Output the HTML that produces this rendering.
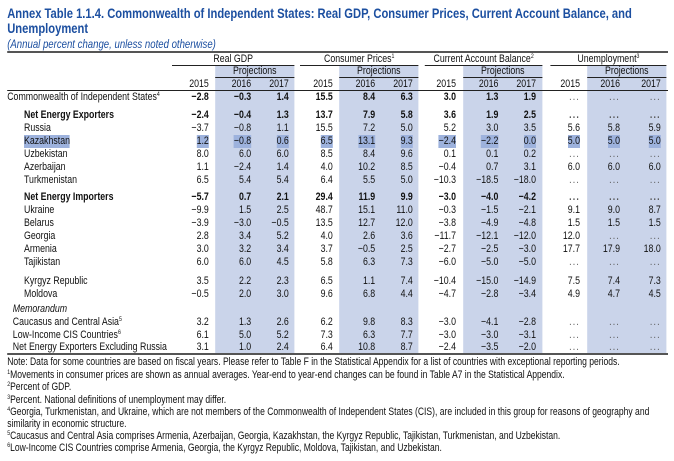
<!DOCTYPE html>
<html><head><meta charset="utf-8"><style>
html,body{margin:0;padding:0;background:#fff;width:674px;height:461px;overflow:hidden}
#w{position:absolute;left:0;top:0;width:842px;height:461px;transform:scaleX(0.8);transform-origin:0 0;font-family:"Liberation Sans",sans-serif;color:#111}
.a{position:absolute;white-space:nowrap}
.t{color:#1c4fa0;font-weight:bold;font-size:14px;left:9px}
.sh{position:absolute;background:#cad4ea;top:66px;height:288px}
.r{position:absolute;left:0;width:842px;height:13px;font-size:11px;line-height:13px}
.r span{position:absolute;text-align:right;white-space:nowrap}
.b{font-weight:bold}
.c1{right:581px}.c2{right:528px}.c3{right:481px}.c4{right:426px}.c5{right:373px}.c6{right:326px}.c7{right:272px}.c8{right:219px}.c9{right:172px}.c10{right:117px}.c11{right:67px}.c12{right:16px}
.r span.l{left:30px;text-align:left}
.r span.l0{left:9px;text-align:left}
.r span.l1{left:16px;text-align:left}
.hl .c1,.hl .c2,.hl .c3,.hl .c4,.hl .c5,.hl .c6,.hl .c7,.hl .c8,.hl .c9,.hl .c10,.hl .c11,.hl .c12,.hl .l{background:#9db2dd}
.ln{position:absolute;background:#222;height:1px}
.f{position:absolute;left:9px;font-size:10.7px;line-height:12px;white-space:nowrap}
sup{font-size:6.5px;vertical-align:top;line-height:6px;position:relative;top:1px}
.d{letter-spacing:1.5px;color:#555}
</style></head><body><div id="w">
<div class="a t" style="top:5px">Annex Table 1.1.4. Commonwealth of Independent States: Real GDP, Consumer Prices, Current Account Balance, and</div>
<div class="a t" style="top:20px">Unemployment</div>
<div class="a" style="left:9px;top:37px;font-size:12px;font-style:italic;color:#1c4fa0">(Annual percent change, unless noted otherwise)</div>

<div class="sh" style="left:269px;width:99px"></div>
<div class="sh" style="left:424px;width:99px"></div>
<div class="sh" style="left:579px;width:99px"></div>
<div class="sh" style="left:734px;width:99px"></div>

<div class="ln" style="left:9px;width:826px;top:51px;height:2px;background:#555"></div>
<div class="r" style="top:53px"><span style="left:215px;width:153px;text-align:center">Real GDP</span><span style="left:375px;width:148px;text-align:center">Consumer Prices<sup>1</sup></span><span style="left:531px;width:147px;text-align:center">Current Account Balance<sup>2</sup></span><span style="left:688px;width:145px;text-align:center">Unemployment<sup>3</sup></span></div>
<div class="ln" style="left:215px;width:153px;top:65px"></div>
<div class="ln" style="left:375px;width:148px;top:65px"></div>
<div class="ln" style="left:531px;width:147px;top:65px"></div>
<div class="ln" style="left:688px;width:145px;top:65px"></div>
<div class="r" style="top:65px"><span style="left:269px;width:99px;text-align:center">Projections</span><span style="left:424px;width:99px;text-align:center">Projections</span><span style="left:579px;width:99px;text-align:center">Projections</span><span style="left:734px;width:99px;text-align:center">Projections</span></div>
<div class="ln" style="left:269px;width:99px;top:77px"></div>
<div class="ln" style="left:424px;width:99px;top:77px"></div>
<div class="ln" style="left:579px;width:99px;top:77px"></div>
<div class="ln" style="left:734px;width:99px;top:77px"></div>
<div class="r" style="top:78px"><span class="c1">2015</span><span class="c2">2016</span><span class="c3">2017</span><span class="c4">2015</span><span class="c5">2016</span><span class="c6">2017</span><span class="c7">2015</span><span class="c8">2016</span><span class="c9">2017</span><span class="c10">2015</span><span class="c11">2016</span><span class="c12">2017</span></div>
<div class="ln" style="left:9px;width:826px;top:90px"></div>

<div class="r" style="top:91px"><span class="l0">Commonwealth of Independent States<sup>4</sup></span><span class="c1 b">−2.8</span><span class="c2 b">−0.3</span><span class="c3 b">1.4</span><span class="c4 b">15.5</span><span class="c5 b">8.4</span><span class="c6 b">6.3</span><span class="c7 b">3.0</span><span class="c8 b">1.3</span><span class="c9 b">1.9</span><span class="c10 d">...</span><span class="c11 d">...</span><span class="c12 d">...</span></div>

<div class="r b" style="top:109px"><span class="l">Net Energy Exporters</span><span class="c1">−2.4</span><span class="c2">−0.4</span><span class="c3">1.3</span><span class="c4">13.7</span><span class="c5">7.9</span><span class="c6">5.8</span><span class="c7">3.6</span><span class="c8">1.9</span><span class="c9">2.5</span><span class="c10 d">...</span><span class="c11 d">...</span><span class="c12 d">...</span></div>
<div class="r" style="top:122px"><span class="l">Russia</span><span class="c1">−3.7</span><span class="c2">−0.8</span><span class="c3">1.1</span><span class="c4">15.5</span><span class="c5">7.2</span><span class="c6">5.0</span><span class="c7">5.2</span><span class="c8">3.0</span><span class="c9">3.5</span><span class="c10">5.6</span><span class="c11">5.8</span><span class="c12">5.9</span></div>
<div class="r hl" style="top:135px"><span class="l">Kazakhstan</span><span class="c1">1.2</span><span class="c2">−0.8</span><span class="c3">0.6</span><span class="c4">6.5</span><span class="c5">13.1</span><span class="c6">9.3</span><span class="c7">−2.4</span><span class="c8">−2.2</span><span class="c9">0.0</span><span class="c10">5.0</span><span class="c11">5.0</span><span class="c12">5.0</span></div>
<div class="r" style="top:148px"><span class="l">Uzbekistan</span><span class="c1">8.0</span><span class="c2">6.0</span><span class="c3">6.0</span><span class="c4">8.5</span><span class="c5">8.4</span><span class="c6">9.6</span><span class="c7">0.1</span><span class="c8">0.1</span><span class="c9">0.2</span><span class="c10 d">...</span><span class="c11 d">...</span><span class="c12 d">...</span></div>
<div class="r" style="top:161px"><span class="l">Azerbaijan</span><span class="c1">1.1</span><span class="c2">−2.4</span><span class="c3">1.4</span><span class="c4">4.0</span><span class="c5">10.2</span><span class="c6">8.5</span><span class="c7">−0.4</span><span class="c8">0.7</span><span class="c9">3.1</span><span class="c10">6.0</span><span class="c11">6.0</span><span class="c12">6.0</span></div>
<div class="r" style="top:174px"><span class="l">Turkmenistan</span><span class="c1">6.5</span><span class="c2">5.4</span><span class="c3">5.4</span><span class="c4">6.4</span><span class="c5">5.5</span><span class="c6">5.0</span><span class="c7">−10.3</span><span class="c8">−18.5</span><span class="c9">−18.0</span><span class="c10 d">...</span><span class="c11 d">...</span><span class="c12 d">...</span></div>

<div class="r b" style="top:191px"><span class="l">Net Energy Importers</span><span class="c1">−5.7</span><span class="c2">0.7</span><span class="c3">2.1</span><span class="c4">29.4</span><span class="c5">11.9</span><span class="c6">9.9</span><span class="c7">−3.0</span><span class="c8">−4.0</span><span class="c9">−4.2</span><span class="c10 d">...</span><span class="c11 d">...</span><span class="c12 d">...</span></div>
<div class="r" style="top:204px"><span class="l">Ukraine</span><span class="c1">−9.9</span><span class="c2">1.5</span><span class="c3">2.5</span><span class="c4">48.7</span><span class="c5">15.1</span><span class="c6">11.0</span><span class="c7">−0.3</span><span class="c8">−1.5</span><span class="c9">−2.1</span><span class="c10">9.1</span><span class="c11">9.0</span><span class="c12">8.7</span></div>
<div class="r" style="top:217px"><span class="l">Belarus</span><span class="c1">−3.9</span><span class="c2">−3.0</span><span class="c3">−0.5</span><span class="c4">13.5</span><span class="c5">12.7</span><span class="c6">12.0</span><span class="c7">−3.8</span><span class="c8">−4.9</span><span class="c9">−4.8</span><span class="c10">1.5</span><span class="c11">1.5</span><span class="c12">1.5</span></div>
<div class="r" style="top:230px"><span class="l">Georgia</span><span class="c1">2.8</span><span class="c2">3.4</span><span class="c3">5.2</span><span class="c4">4.0</span><span class="c5">2.6</span><span class="c6">3.6</span><span class="c7">−11.7</span><span class="c8">−12.1</span><span class="c9">−12.0</span><span class="c10">12.0</span><span class="c11 d">...</span><span class="c12 d">...</span></div>
<div class="r" style="top:243px"><span class="l">Armenia</span><span class="c1">3.0</span><span class="c2">3.2</span><span class="c3">3.4</span><span class="c4">3.7</span><span class="c5">−0.5</span><span class="c6">2.5</span><span class="c7">−2.7</span><span class="c8">−2.5</span><span class="c9">−3.0</span><span class="c10">17.7</span><span class="c11">17.9</span><span class="c12">18.0</span></div>
<div class="r" style="top:256px"><span class="l">Tajikistan</span><span class="c1">6.0</span><span class="c2">6.0</span><span class="c3">4.5</span><span class="c4">5.8</span><span class="c5">6.3</span><span class="c6">7.3</span><span class="c7">−6.0</span><span class="c8">−5.0</span><span class="c9">−5.0</span><span class="c10 d">...</span><span class="c11 d">...</span><span class="c12 d">...</span></div>

<div class="r" style="top:275px"><span class="l">Kyrgyz Republic</span><span class="c1">3.5</span><span class="c2">2.2</span><span class="c3">2.3</span><span class="c4">6.5</span><span class="c5">1.1</span><span class="c6">7.4</span><span class="c7">−10.4</span><span class="c8">−15.0</span><span class="c9">−14.9</span><span class="c10">7.5</span><span class="c11">7.4</span><span class="c12">7.3</span></div>
<div class="r" style="top:288px"><span class="l">Moldova</span><span class="c1">−0.5</span><span class="c2">2.0</span><span class="c3">3.0</span><span class="c4">9.6</span><span class="c5">6.8</span><span class="c6">4.4</span><span class="c7">−4.7</span><span class="c8">−2.8</span><span class="c9">−3.4</span><span class="c10">4.9</span><span class="c11">4.7</span><span class="c12">4.5</span></div>
<div class="r" style="top:303px"><span class="l1" style="font-style:italic">Memorandum</span></div>
<div class="r" style="top:316px"><span class="l1">Caucasus and Central Asia<sup>5</sup></span><span class="c1">3.2</span><span class="c2">1.3</span><span class="c3">2.6</span><span class="c4">6.2</span><span class="c5">9.8</span><span class="c6">8.3</span><span class="c7">−3.0</span><span class="c8">−4.1</span><span class="c9">−2.8</span><span class="c10 d">...</span><span class="c11 d">...</span><span class="c12 d">...</span></div>
<div class="r" style="top:329px"><span class="l1">Low-Income CIS Countries<sup>6</sup></span><span class="c1">6.1</span><span class="c2">5.0</span><span class="c3">5.2</span><span class="c4">7.3</span><span class="c5">6.3</span><span class="c6">7.7</span><span class="c7">−3.0</span><span class="c8">−3.0</span><span class="c9">−3.1</span><span class="c10 d">...</span><span class="c11 d">...</span><span class="c12 d">...</span></div>
<div class="r" style="top:341px"><span class="l1">Net Energy Exporters Excluding Russia</span><span class="c1">3.1</span><span class="c2">1.0</span><span class="c3">2.4</span><span class="c4">6.4</span><span class="c5">10.8</span><span class="c6">8.7</span><span class="c7">−2.4</span><span class="c8">−3.5</span><span class="c9">−2.0</span><span class="c10 d">...</span><span class="c11 d">...</span><span class="c12 d">...</span></div>
<div class="ln" style="left:9px;width:826px;top:353px;height:2px;background:#555"></div>

<div class="f" style="top:356px">Note: Data for some countries are based on fiscal years. Please refer to Table F in the Statistical Appendix for a list of countries with exceptional reporting periods.</div>
<div class="f" style="top:369px"><sup>1</sup>Movements in consumer prices are shown as annual averages. Year-end to year-end changes can be found in Table A7 in the Statistical Appendix.</div>
<div class="f" style="top:381px"><sup>2</sup>Percent of GDP.</div>
<div class="f" style="top:394px"><sup>3</sup>Percent. National definitions of unemployment may differ.</div>
<div class="f" style="top:406px"><sup>4</sup>Georgia, Turkmenistan, and Ukraine, which are not members of the Commonwealth of Independent States (CIS), are included in this group for reasons of geography and</div>
<div class="f" style="top:418px">similarity in economic structure.</div>
<div class="f" style="top:430px"><sup>5</sup>Caucasus and Central Asia comprises Armenia, Azerbaijan, Georgia, Kazakhstan, the Kyrgyz Republic, Tajikistan, Turkmenistan, and Uzbekistan.</div>
<div class="f" style="top:442px"><sup>6</sup>Low-Income CIS Countries comprise Armenia, Georgia, the Kyrgyz Republic, Moldova, Tajikistan, and Uzbekistan.</div>
</div></body></html>
